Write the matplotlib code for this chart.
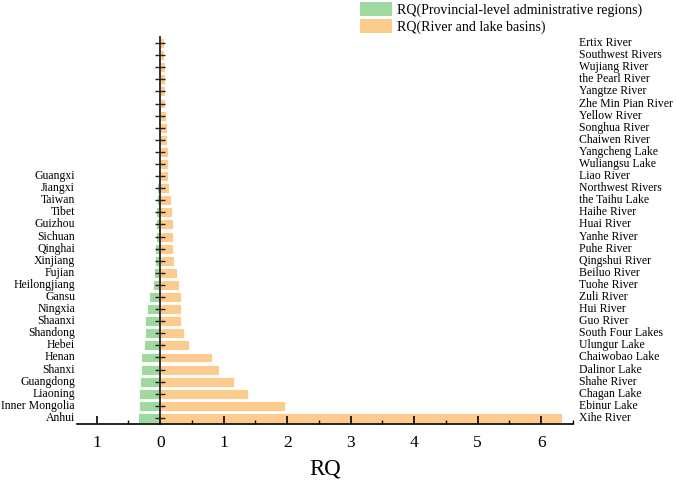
import matplotlib
matplotlib.use("Agg")
import matplotlib.pyplot as plt
from matplotlib.patches import Patch
from matplotlib.ticker import MultipleLocator, FuncFormatter
from matplotlib.transforms import blended_transform_factory

plt.rcParams['font.family'] = ['Liberation Serif', 'DejaVu Serif']

# River and lake basins, top to bottom
basins = ["Ertix River", "Southwest Rivers", "Wujiang River", "the Pearl River",
          "Yangtze River", "Zhe Min Pian River", "Yellow River", "Songhua River",
          "Chaiwen River", "Yangcheng Lake", "Wuliangsu Lake", "Liao River",
          "Northwest Rivers", "the Taihu Lake", "Haihe River", "Huai River",
          "Yanhe River", "Puhe River", "Qingshui River", "Beiluo River",
          "Tuohe River", "Zuli River", "Hui River", "Guo River",
          "South Four Lakes", "Ulungur Lake", "Chaiwobao Lake", "Dalinor Lake",
          "Shahe River", "Chagan Lake", "Ebinur Lake", "Xihe River"]
basin_rq = [0.063, 0.063, 0.068, 0.068, 0.073, 0.079, 0.089, 0.105,
            0.11, 0.12, 0.12, 0.13, 0.14, 0.165, 0.19, 0.195,
            0.205, 0.205, 0.225, 0.26, 0.29, 0.325, 0.325, 0.335,
            0.37, 0.46, 0.82, 0.93, 1.165, 1.375, 1.96, 6.33]

# Provincial-level administrative regions, top to bottom
provinces = ["Guangxi", "Jiangxi", "Taiwan", "Tibet", "Guizhou", "Sichuan",
             "Qinghai", "Xinjiang", "Fujian", "Heilongjiang", "Gansu", "Ningxia",
             "Shaanxi", "Shandong", "Hebei", "Henan", "Shanxi", "Guangdong",
             "Liaoning", "Inner Mongolia", "Anhui"]
province_rq = [0.035, 0.045, 0.05, 0.065, 0.065, 0.07, 0.08, 0.08, 0.095,
               0.11, 0.175, 0.215, 0.245, 0.245, 0.25, 0.295, 0.30, 0.325,
               0.33, 0.34, 0.345]

xticks = [-1, 0, 1, 2, 3, 4, 5, 6]

green = '#9fd99f'
orange = '#fecb8f'

fig = plt.figure(figsize=(6.76, 4.82), dpi=100)
ax = fig.add_axes([77/676, 1 - 424/482, (573-77)/676, (424-37)/482])

nb = len(basins)
ypos_b = [nb - 1 - i for i in range(nb)]
npv = len(provinces)
ypos_p = [npv - 1 - i for i in range(npv)]

ax.barh(ypos_b, basin_rq, height=0.82, color=orange, edgecolor='white', linewidth=0.6)
ax.barh(ypos_p, [-v for v in province_rq], height=0.82, color=green, edgecolor='white', linewidth=0.6)

ax.set_xlim(-1.31, 6.5)
ax.set_ylim(-0.5, nb - 0.5)

for s in ['top', 'right']:
    ax.spines[s].set_visible(False)
ax.spines['left'].set_position(('data', 0))
ax.spines['left'].set_linewidth(1.3)
ax.spines['left'].set_color('#222222')
ax.spines['bottom'].set_linewidth(1.2)

ax.set_yticks(ypos_b)
ax.tick_params(axis='y', direction='inout', length=7, width=1.0, labelleft=False, color='#222222')

ax.set_xticks(xticks)
ax.xaxis.set_major_formatter(FuncFormatter(lambda v, p: f"{abs(int(round(v)))}"))
ax.xaxis.set_minor_locator(MultipleLocator(0.5))
ax.tick_params(axis='x', which='major', direction='in', length=6, width=1.2, labelsize=12.5, pad=8)
ax.tick_params(axis='x', which='minor', direction='in', length=3, width=1.0)
ax.set_xlabel('RQ', fontsize=16.5, labelpad=5)

# province labels on the left
tr = blended_transform_factory(ax.transAxes, ax.transData)
for name, y in zip(provinces, ypos_p):
    ax.text(-0.004, y, name, transform=tr, ha='right', va='center', fontsize=8.5)

# basin labels on the right
tr2 = blended_transform_factory(ax.transAxes, ax.transData)
for name, y in zip(basins, ypos_b):
    ax.text(1.012, y, name, transform=tr2, ha='left', va='center', fontsize=8.5)

handles = [Patch(facecolor=green, edgecolor='none'), Patch(facecolor=orange, edgecolor='none')]
labels = ['RQ(Provincial-level administrative regions)', 'RQ(River and lake basins)']
fig.legend(handles, labels, loc='upper left', bbox_to_anchor=(359/676, 1 - 1/482),
           frameon=False, fontsize=10, handlelength=2.3, handleheight=1.2,
           handletextpad=0.4, labelspacing=0.15, borderpad=0.05, borderaxespad=0)

fig.savefig('out.png', dpi=100)
